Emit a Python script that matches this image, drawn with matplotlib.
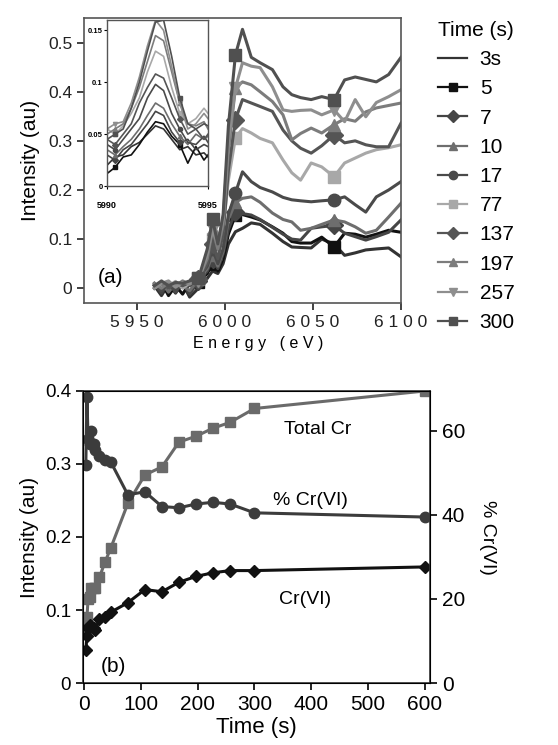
import numpy as np
import matplotlib
matplotlib.use("Agg")
import matplotlib.pyplot as plt
from matplotlib.lines import Line2D

plt.rcParams['font.family'] = ['Liberation Sans', 'DejaVu Sans']

# ---- panel (a): XANES spectra ----
energy = [5960, 5964, 5968, 5972, 5976, 5980, 5985, 5990, 5993, 5996, 5999, 6002, 6006, 6010,
          6015, 6020, 6027, 6033, 6038, 6043, 6049, 6055, 6062, 6068, 6074, 6080, 6086, 6093, 6100]
times = ['3s', '5', '7', '10', '17', '77', '137', '197', '257', '300']
spec_3 = [0.005, -0.015, 0.008, -0.01, 0.01, -0.018, 0.0, 0.02, 0.035, 0.03, 0.05, 0.09, 0.115, 0.122,
          0.133, 0.13, 0.112, 0.095, 0.084, 0.083, 0.082, 0.1, 0.09, 0.067, 0.072, 0.078, 0.08, 0.082, 0.064]
spec_5 = [0.0, 0.012, -0.015, 0.005, -0.012, 0.01, 0.012, 0.03, 0.05, 0.035, 0.06, 0.11, 0.149, 0.15,
          0.145, 0.139, 0.125, 0.112, 0.095, 0.092, 0.092, 0.104, 0.084, 0.112, 0.11, 0.104, 0.11, 0.118, 0.114]
spec_7 = [0.01, -0.01, 0.012, -0.005, 0.01, -0.012, 0.015, 0.035, 0.06, 0.04, 0.07, 0.12, 0.155, 0.152,
          0.149, 0.14, 0.124, 0.11, 0.1, 0.098, 0.122, 0.125, 0.128, 0.112, 0.105, 0.098, 0.105, 0.114, 0.139]
spec_10 = [0.005, 0.012, -0.008, 0.01, 0.005, -0.005, 0.018, 0.04, 0.068, 0.045, 0.075, 0.14, 0.175, 0.183,
           0.186, 0.175, 0.153, 0.14, 0.135, 0.118, 0.122, 0.13, 0.139, 0.135, 0.125, 0.112, 0.118, 0.145, 0.173]
spec_17 = [0.008, -0.005, 0.01, -0.008, 0.012, 0.005, 0.02, 0.045, 0.08, 0.05, 0.08, 0.15, 0.194, 0.237,
           0.217, 0.205, 0.196, 0.185, 0.18, 0.178, 0.176, 0.178, 0.18, 0.186, 0.17, 0.155, 0.186, 0.2, 0.217]
spec_77 = [0.0, 0.01, 0.005, 0.014, 0.0, 0.01, 0.02, 0.06, 0.10, 0.07, 0.12, 0.22, 0.306, 0.325,
           0.316, 0.305, 0.296, 0.261, 0.235, 0.22, 0.255, 0.247, 0.227, 0.255, 0.265, 0.275, 0.282, 0.286, 0.292]
spec_137 = [0.005, 0.012, 0.0, 0.01, 0.005, 0.012, 0.018, 0.05, 0.09, 0.06, 0.11, 0.24, 0.343, 0.384,
            0.377, 0.37, 0.36, 0.322, 0.3, 0.285, 0.275, 0.29, 0.312, 0.296, 0.3, 0.292, 0.288, 0.288, 0.336]
spec_197 = [0.01, 0.0, 0.012, 0.005, 0.015, 0.008, 0.02, 0.06, 0.12, 0.08, 0.13, 0.28, 0.408, 0.42,
            0.414, 0.4, 0.38, 0.353, 0.302, 0.315, 0.326, 0.316, 0.333, 0.345, 0.34, 0.359, 0.367, 0.372, 0.377]
spec_257 = [0.0, 0.01, 0.015, 0.002, 0.012, 0.01, 0.015, 0.07, 0.12, 0.09, 0.14, 0.30, 0.408, 0.459,
            0.452, 0.449, 0.41, 0.363, 0.36, 0.362, 0.363, 0.353, 0.363, 0.339, 0.384, 0.349, 0.378, 0.39, 0.404]
spec_300 = [0.005, 0.015, 0.005, 0.012, 0.01, 0.015, 0.02, 0.08, 0.14, 0.09, 0.15, 0.33, 0.475, 0.527,
            0.47, 0.459, 0.445, 0.41, 0.394, 0.388, 0.384, 0.39, 0.384, 0.424, 0.43, 0.425, 0.42, 0.435, 0.47]

# inset: pre-edge peak
energy_in = [5990.0, 5990.4, 5990.8, 5991.2, 5991.6, 5992.0, 5992.4, 5992.8, 5993.2, 5993.6,
             5994.0, 5994.4, 5994.8, 5995.0]
pre_3 = [0.020, 0.028, 0.030, 0.038, 0.042, 0.050, 0.058, 0.055, 0.045, 0.035, 0.038, 0.030, 0.032, 0.028]
pre_5 = [0.012, 0.018, 0.028, 0.030, 0.040, 0.052, 0.062, 0.060, 0.048, 0.040, 0.022, 0.038, 0.025, 0.030]
pre_7 = [0.030, 0.025, 0.035, 0.040, 0.050, 0.060, 0.072, 0.068, 0.052, 0.042, 0.045, 0.035, 0.040, 0.038]
pre_10 = [0.035, 0.030, 0.038, 0.045, 0.055, 0.068, 0.080, 0.075, 0.060, 0.048, 0.040, 0.050, 0.045, 0.048]
pre_17 = [0.040, 0.035, 0.045, 0.055, 0.065, 0.085, 0.098, 0.092, 0.070, 0.055, 0.042, 0.040, 0.048, 0.042]
pre_77 = [0.055, 0.050, 0.058, 0.070, 0.085, 0.110, 0.130, 0.125, 0.095, 0.070, 0.060, 0.065, 0.075, 0.070]
pre_137 = [0.045, 0.040, 0.050, 0.060, 0.080, 0.095, 0.108, 0.104, 0.085, 0.065, 0.050, 0.055, 0.045, 0.050]
pre_197 = [0.050, 0.055, 0.060, 0.075, 0.095, 0.120, 0.145, 0.140, 0.110, 0.080, 0.060, 0.058, 0.062, 0.055]
pre_257 = [0.055, 0.060, 0.062, 0.080, 0.105, 0.135, 0.160, 0.150, 0.115, 0.080, 0.055, 0.060, 0.070, 0.065]
pre_300 = [0.045, 0.050, 0.055, 0.075, 0.100, 0.130, 0.158, 0.160, 0.125, 0.085, 0.060, 0.055, 0.060, 0.058]

# ---- panel (b): kinetics ----
t = [3, 5, 7, 10, 13, 17, 20, 27, 37, 47, 77, 107, 137, 167, 197, 227, 257, 300, 600]
total_cr = [0.075, 0.09, 0.115, 0.118, 0.13, 0.13, 0.13, 0.145, 0.166, 0.185, 0.246, 0.285, 0.296,
            0.33, 0.338, 0.349, 0.357, 0.376, 0.40]
cr6 = [0.045, 0.065, 0.075, 0.08, 0.078, 0.075, 0.073, 0.088, 0.09, 0.097, 0.11, 0.128, 0.125,
       0.138, 0.146, 0.151, 0.154, 0.154, 0.159]
pct_cr6 = [52, 68, 58, 57, 60, 57, 55.5, 54, 53, 52.6, 44.8, 45.5, 42, 41.7, 42.6, 43, 42.6, 40.5, 39.5]

spectra = [spec_3, spec_5, spec_7, spec_10, spec_17, spec_77, spec_137, spec_197, spec_257, spec_300]
pre = [pre_3, pre_5, pre_7, pre_10, pre_17, pre_77, pre_137, pre_197, pre_257, pre_300]
colors = ['#333333', '#111111', '#454545', '#6e6e6e', '#4a4a4a', '#a8a8a8', '#555555', '#7c7c7c', '#8e8e8e', '#505050']
markers = ['', 's', 'D', '^', 'o', 's', 'D', '^', 'v', 's']

fig = plt.figure(figsize=(5.58, 7.45), dpi=100)

ax = fig.add_axes([0.1505, 0.5933, 0.5681, 0.3825])
for y, c, m in zip(spectra, colors, markers):
    ax.plot(energy, y, color=c, lw=2.2, marker=m if m else None, ms=9, markevery=[6, 8, 12, 22])
ax.set_xlim(5920, 6100)
ax.set_ylim(-0.03, 0.55)
ax.set_xticks([5950, 6000, 6050, 6100])
ax.set_xticklabels(['5 9 5 0', '6 0 0 0', '6 0 5 0', '6 1 0 0'], fontsize=12.5)
ax.set_yticks([0, 0.1, 0.2, 0.3, 0.4, 0.5])
ax.set_yticklabels(['0', '0.1', '0.2', '0.3', '0.4', '0.5'], fontsize=12.5)
ax.tick_params(direction='out', length=5, width=1.2, colors='#222222')
for s in ax.spines.values():
    s.set_color('#555555')
    s.set_linewidth(1.2)
ax.set_ylabel('Intensity (au)', fontsize=15, labelpad=6)
fig.text(0.463, 0.539, 'E n e r g y   ( e V )', fontsize=11.5, ha='center', va='center')
ax.text(0.085, 0.09, '(a)', transform=ax.transAxes, fontsize=15, ha='center', va='center')

# legend with small markers
handles = [Line2D([], [], color=c, lw=1.6, marker=m if m else None, ms=6) for c, m in zip(colors, markers)]
leg = fig.legend(handles, times, loc='upper left', bbox_to_anchor=(0.77, 0.983), frameon=False,
                 fontsize=15, title='Time (s)', title_fontsize=15, handlelength=1.4,
                 handletextpad=0.6, labelspacing=0.49, borderaxespad=0)
leg._legend_box.align = 'left'

# inset
axi = fig.add_axes([0.1918, 0.7503, 0.181, 0.2228])
for y, c, m in zip(pre, colors, markers):
    axi.plot(energy_in, y, color=c, lw=1.2, marker=m if m else None, ms=3, markevery=[1, 9])
axi.set_xlim(5990, 5995)
axi.set_ylim(0, 0.16)
axi.set_xticks([5990, 5995])
axi.set_xticklabels(['5990', '5995'], fontsize=6.5, fontweight='bold')
axi.set_yticks([0, 0.05, 0.1, 0.15])
axi.set_yticklabels(['0', '0.05', '0.1', '0.15'], fontsize=5.5, fontweight='bold')
axi.tick_params(direction='out', length=2, width=0.8, pad=1)
axi.tick_params(axis='x', pad=9)
for s in axi.spines.values():
    s.set_color('#555555')
    s.set_linewidth(1.0)

# ---- panel (b) ----
bx = fig.add_axes([0.1487, 0.0832, 0.6219, 0.392])
bx.plot(t, total_cr, color='#6a6a6a', lw=2.2, marker='s', ms=7.5)
bx.plot(t, cr6, color='#111111', lw=2.2, marker='D', ms=6.5)
bx.set_xlim(-2, 609)
bx.set_ylim(0, 0.4)
bx.set_xticks([0, 100, 200, 300, 400, 500, 600])
bx.set_xticklabels(['0', '100', '200', '300', '400', '500', '600'], fontsize=15)
bx.set_yticks([0, 0.1, 0.2, 0.3, 0.4])
bx.set_yticklabels(['0', '0.1', '0.2', '0.3', '0.4'], fontsize=13.5)
bx.tick_params(direction='out', length=5, width=1.2)
bx.set_xlabel('Time (s)', fontsize=16, labelpad=2)
bx.set_ylabel('Intensity (au)', fontsize=15, labelpad=4)
for s in bx.spines.values():
    s.set_color('#333333')
    s.set_linewidth(1.2)

bx2 = bx.twinx()
bx2.plot(t, pct_cr6, color='#3c3c3c', lw=2.2, marker='o', ms=7.5)
bx2.set_ylim(0, 69.5)
bx2.set_yticks([0, 20, 40, 60])
bx2.set_yticklabels(['0', '20', '40', '60'], fontsize=15)
bx2.tick_params(direction='out', length=5, width=1.2)
bx2.set_ylabel('% Cr(VI)', fontsize=14, rotation=270, labelpad=22)

bx.text(412, 0.347, 'Total Cr', fontsize=14, ha='center', va='center')
bx.text(398, 0.25, '% Cr(VI)', fontsize=14, ha='center', va='center')
bx.text(389, 0.115, 'Cr(VI)', fontsize=14, ha='center', va='center')
bx.text(51, 0.023, '(b)', fontsize=15, ha='center', va='center')

fig.savefig('out.png', dpi=100)
